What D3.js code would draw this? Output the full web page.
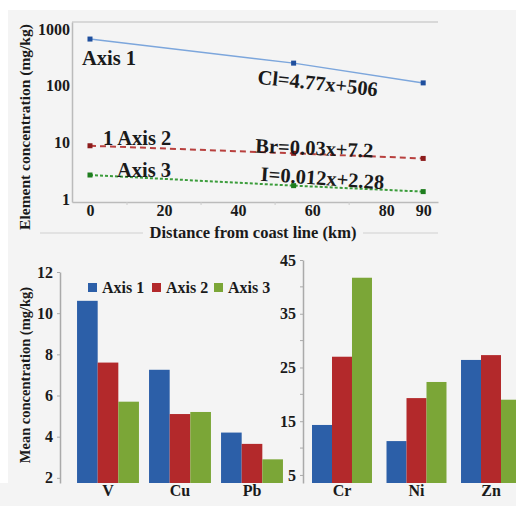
<!DOCTYPE html>
<html>
<head>
<meta charset="utf-8">
<script src="https://cdn.jsdelivr.net/npm/d3@7"></script>
<style>
  body { margin: 0; background: #fff; }
  svg text { font-family: "Liberation Serif", "DejaVu Serif", serif !important; font-weight: bold; fill: #1a1a1a; }
</style>
</head>
<body>
<div id="chart"></div>
<script>
// top chart: element concentration vs distance
const distance = [0, 55, 90];
const clValues = [665, 250, 112];
const brValues = [8.7, 6.4, 5.2];
const iValues = [2.65, 1.72, 1.35];
const distTicks = [0, 20, 40, 60, 80, 90];
const concTicks = [1, 10, 100, 1000];

// bottom charts: mean concentration by metal
const seriesNames = ["Axis 1", "Axis 2", "Axis 3"];
const leftMetals = ["V", "Cu", "Pb"];
const leftAxis1 = [10.6, 7.25, 4.2];
const leftAxis2 = [7.6, 5.1, 3.65];
const leftAxis3 = [5.7, 5.2, 2.9];
const leftTicks = [2, 4, 6, 8, 10, 12];
const rightMetals = ["Cr", "Ni", "Zn"];
const rightAxis1 = [14.3, 11.3, 26.4];
const rightAxis2 = [27.0, 19.3, 27.3];
const rightAxis3 = [41.7, 22.3, 19.0];
const rightTicks = [5, 15, 25, 35, 45];
const rightMinor = [10, 20, 30, 40];

const colors = ["#2c5fa8", "#b3292b", "#7ba637"];
const bg = "#f4f4f4";
const serif = "'Liberation Serif', 'DejaVu Serif', serif";

const svg = d3.select("#chart").append("svg")
    .attr("width", 516)
    .attr("height", 506)
    .attr("font-family", serif);

// background panels
svg.append("rect").attr("x", 8).attr("y", 10).attr("width", 508).attr("height", 496).attr("fill", bg);
svg.append("rect").attr("x", 0).attr("y", 483).attr("width", 8).attr("height", 23).attr("fill", bg);

// ---------- top line chart ----------
const x = d3.scaleLinear().domain([-4.86, 94]).range([72, 438]);
const y = d3.scaleLog().domain([0.885, 1330]).range([202, 22]);

const top_g = svg.append("g");

// top border line
top_g.append("line")
    .attr("x1", 72).attr("x2", 438).attr("y1", y(1330)).attr("y2", y(1330))
    .attr("stroke", "#cfcfcf").attr("stroke-width", 1.5);

const xAxis = top_g.append("g")
    .attr("transform", `translate(0,${y(0.885)})`)
    .call(d3.axisBottom(x).tickValues(distTicks).tickSize(0).tickPadding(3));
xAxis.select(".domain").attr("stroke", "#bbb").attr("stroke-width", 1.5);
xAxis.selectAll("text").attr("font-size", "16px").attr("font-family", serif);
// small minor ticks
top_g.selectAll(".minor-x")
    .data([10, 30, 50, 70])
    .join("line")
    .attr("x1", d => x(d)).attr("x2", d => x(d))
    .attr("y1", 202).attr("y2", 205)
    .attr("stroke", "#ccc");

const yAxis = top_g.append("g")
    .attr("transform", "translate(72,0)")
    .call(d3.axisLeft(y).tickValues(concTicks).tickFormat(d3.format("d")).tickSize(0).tickPadding(2));
yAxis.select(".domain").attr("stroke", "#bbb").attr("stroke-width", 1.5);
yAxis.selectAll("text").attr("font-size", "16px").attr("font-family", serif);

// axis titles
top_g.append("line")
    .attr("x1", 40).attr("x2", 438).attr("y1", 233).attr("y2", 233)
    .attr("stroke", "#ddd").attr("stroke-width", 1.5);
top_g.append("rect")
    .attr("x", 143).attr("y", 223).attr("width", 220).attr("height", 20).attr("fill", bg);
top_g.append("text")
    .attr("x", 253).attr("y", 238)
    .attr("text-anchor", "middle")
    .attr("font-size", "16.5px")
    .text("Distance from coast line (km)");

top_g.append("text")
    .attr("transform", "translate(30,127) rotate(-90)")
    .attr("text-anchor", "middle")
    .attr("font-size", "15.5px")
    .text("Element concentration (mg/kg)");

const lines = [
    {vals: clValues, stroke: "#7ca6dc", marker: "#1f4f9e", dash: null, width: 1.5},
    {vals: brValues, stroke: "#b8403e", marker: "#8c1c1c", dash: "6,4", width: 2},
    {vals: iValues, stroke: "#3a9c3a", marker: "#1e7d1e", dash: "3,2", width: 2}
];

lines.forEach(s => {
    const pts = distance.map((d, i) => ({d: d, v: s.vals[i]}));
    top_g.append("path")
        .datum(pts)
        .attr("fill", "none")
        .attr("stroke", s.stroke)
        .attr("stroke-width", s.width)
        .attr("stroke-dasharray", s.dash)
        .attr("d", d3.line().x(p => x(p.d)).y(p => y(p.v)));
    top_g.selectAll(null)
        .data(pts)
        .join("rect")
        .attr("x", p => x(p.d) - 2.5)
        .attr("y", p => y(p.v) - 2.5)
        .attr("width", 5).attr("height", 5)
        .attr("fill", s.marker);
});

// annotations
const notes = [
    {t: "Axis 1", x: 82, y: 65, r: 0, a: "start"},
    {t: "1 Axis 2", x: 103, y: 145, r: 0, a: "start"},
    {t: "Axis 3", x: 117, y: 177, r: 0, a: "start"},
    {t: "Cl=4.77x+506", x: 317, y: 90, r: 6, a: "middle"},
    {t: "Br=0.03x+7.2", x: 314, y: 155, r: 2.5, a: "middle"},
    {t: "I=0.012x+2.28", x: 322, y: 185, r: 4, a: "middle"}
];
top_g.selectAll(".note")
    .data(notes)
    .join("text")
    .attr("transform", d => `translate(${d.x},${d.y}) rotate(${d.r})`)
    .attr("text-anchor", d => d.a)
    .attr("font-size", "20.5px")
    .text(d => d.t);

// ---------- bottom bar charts ----------
function barChart(metals, vals, yScale, xRange, pi, po) {
    const g = svg.append("g");
    const x0 = d3.scaleBand().domain(metals).range(xRange).paddingInner(pi).paddingOuter(po);
    const x1 = d3.scaleBand().domain(seriesNames).range([0, x0.bandwidth()]);
    const base = yScale.range()[0];

    const rows = [];
    metals.forEach((m, i) => {
        seriesNames.forEach((s, j) => rows.push({m: m, s: s, v: vals[j][i], c: colors[j]}));
    });

    g.selectAll("rect")
        .data(rows)
        .join("rect")
        .attr("x", d => x0(d.m) + x1(d.s))
        .attr("y", d => yScale(d.v))
        .attr("width", x1.bandwidth())
        .attr("height", d => base - yScale(d.v))
        .attr("fill", d => d.c);

    g.selectAll(".xlab")
        .data(metals)
        .join("text")
        .attr("x", d => x0(d) + x0.bandwidth() / 2)
        .attr("y", 496)
        .attr("text-anchor", "middle")
        .attr("font-size", "16px")
        .text(d => d);

    return g;
}

// left chart
const yL = d3.scaleLinear().domain([1.75, 12]).range([483, 272]);
const leftG = barChart(leftMetals, [leftAxis1, leftAxis2, leftAxis3], yL, [72, 288], 0.14, 0.07);
const lAxis = leftG.append("g")
    .attr("transform", "translate(60,0)")
    .call(d3.axisLeft(yL).tickValues(leftTicks).tickSize(3).tickPadding(4).tickSizeOuter(0));
lAxis.select(".domain").attr("stroke", "#aaa").attr("stroke-width", 1.5);
lAxis.selectAll(".tick line").attr("stroke", "#aaa");
lAxis.selectAll("text").attr("font-size", "16px").attr("font-family", serif);

leftG.append("text")
    .attr("transform", "translate(30,375) rotate(-90)")
    .attr("text-anchor", "middle")
    .attr("font-size", "14.5px")
    .text("Mean concentration (mg/kg)");

// legend
const legend = leftG.append("g");
const legX = [88, 152, 214];
seriesNames.forEach((s, i) => {
    legend.append("rect")
        .attr("x", legX[i]).attr("y", 283)
        .attr("width", 9).attr("height", 9)
        .attr("fill", colors[i]);
    legend.append("text")
        .attr("x", legX[i] + 14).attr("y", 293)
        .attr("font-size", "16px")
        .text(s);
});

// right chart
const yR = d3.scaleLinear().domain([3.5, 45]).range([483, 260]);
const rightG = barChart(rightMetals, [rightAxis1, rightAxis2, rightAxis3], yR, [305, 528], 0.195, 0.094);
const rAxis = rightG.append("g")
    .attr("transform", "translate(303,0)")
    .call(d3.axisLeft(yR).tickValues(rightTicks).tickSize(3).tickPadding(4).tickSizeOuter(0));
rAxis.select(".domain").attr("stroke", "#aaa").attr("stroke-width", 1.5);
rAxis.selectAll(".tick line").attr("stroke", "#aaa");
rAxis.selectAll("text").attr("font-size", "16px").attr("font-family", serif);
rightG.selectAll(".minor-y")
    .data(rightMinor)
    .join("line")
    .attr("x1", 300).attr("x2", 303)
    .attr("y1", d => yR(d)).attr("y2", d => yR(d))
    .attr("stroke", "#aaa");
</script>
</body>
</html>
